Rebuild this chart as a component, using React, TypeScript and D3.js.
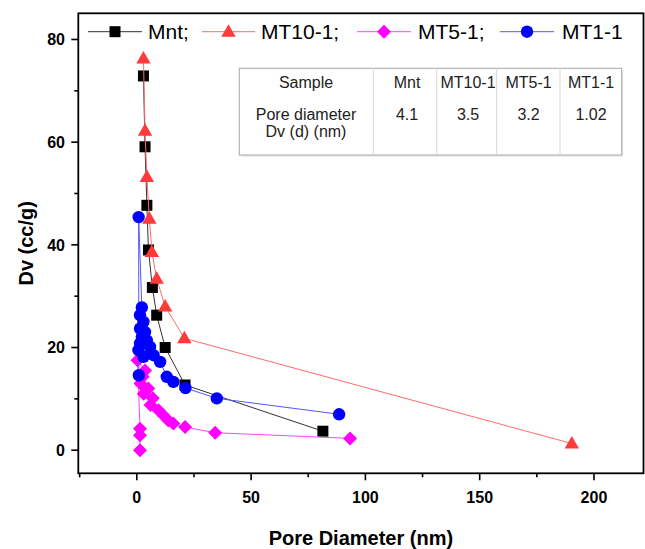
import React from "react";
import * as d3 from "d3";

const mntX = [2.9, 3.6, 4.4, 5.1, 6.8, 8.7, 12.4, 21.1, 81.4];
const mntY = [72.9, 59.1, 47.7, 39.0, 31.7, 26.3, 20.0, 12.7, 3.7];

const mt10X = [2.9, 3.6, 4.4, 5.5, 6.6, 8.7, 12.4, 20.8, 190.3];
const mt10Y = [76.3, 62.2, 53.2, 45.1, 38.6, 33.4, 28.0, 21.8, 1.3];

const mt5X = [1.4, 1.4, 1.4, 0.3, 3.6, 2.6, 1.6, 5.0, 3.0, 7.0, 6.0, 9.5, 11.6, 13.8, 16.0, 21.1, 34.3, 93.3];
const mt5Y = [0.0, 2.9, 4.2, 17.5, 15.5, 14.3, 13.0, 12.0, 11.0, 10.1, 8.8, 7.8, 6.8, 5.8, 5.2, 4.5, 3.4, 2.3];

const mt1X = [0.9, 0.8, 2.2, 1.4, 2.9, 1.4, 3.6, 2.2, 4.4, 1.4, 5.8, 0.7, 7.3, 2.9, 10.2, 13.1, 16.0, 21.3, 35.0, 88.5];
const mt1Y = [14.6, 45.4, 27.8, 26.3, 25.0, 23.7, 23.0, 22.1, 21.4, 20.8, 20.1, 19.5, 18.5, 18.2, 17.2, 14.3, 13.3, 12.1, 10.1, 7.0];

const xTicks = [0, 50, 100, 150, 200];
const xMinor = [-25, 25, 75, 125, 175];
const yTicks = [0, 20, 40, 60, 80];
const yMinor = [10, 30, 50, 70];

const tableHeader = ["Sample", "Mnt", "MT10-1", "MT5-1", "MT1-1"];
const tableValues = ["4.1", "3.5", "3.2", "1.02"];

type Series = { name: string; xs: number[]; ys: number[]; color: string; line: string; marker: string };

const seriesList: Series[] = [
  { name: "Mnt;", xs: mntX, ys: mntY, color: "#000000", line: "#333333", marker: "square" },
  { name: "MT10-1;", xs: mt10X, ys: mt10Y, color: "#FF3A3A", line: "#FF6A6A", marker: "triangle" },
  { name: "MT5-1;", xs: mt5X, ys: mt5Y, color: "#FF00FF", line: "#FF44FF", marker: "diamond" },
  { name: "MT1-1", xs: mt1X, ys: mt1Y, color: "#0000FF", line: "#5555FF", marker: "circle" },
];

const FONT = "'Liberation Sans', Arial, Helvetica, sans-serif";

function Marker({ kind, cx, cy, color }: { kind: string; cx: number; cy: number; color: string }) {
  if (kind === "square") return <rect x={cx - 5.5} y={cy - 5.5} width={11} height={11} fill={color} />;
  if (kind === "triangle")
    return <path d={`M${cx},${cy - 7.5} L${cx + 7.2},${cy + 5} L${cx - 7.2},${cy + 5} Z`} fill={color} />;
  if (kind === "diamond")
    return <path d={`M${cx},${cy - 7} L${cx + 7},${cy} L${cx},${cy + 7} L${cx - 7},${cy} Z`} fill={color} />;
  return <circle cx={cx} cy={cy} r={6.2} fill={color} />;
}

export default function App() {
  const W = 645, H = 549;
  const left = 78.3, right = 643.5, top = 13.3, bottom = 473.3;
  const x = d3.scaleLinear().domain([-25.6, 222.5]).range([left, 645.4]);
  const y = d3.scaleLinear().domain([-4.5, 85.1]).range([bottom, top]);

  const legendItems = [
    { x1: 88, x2: 142, tx: 148 },
    { x1: 202, x2: 255, tx: 261 },
    { x1: 357, x2: 411, tx: 418 },
    { x1: 500, x2: 554, tx: 562 },
  ];
  const legendY = 31.7;

  const tLeft = 239.3, tRight = 621.7, tTop = 68.3, tBottom = 155;
  const colEdges = [tLeft, 373.3, 436.7, 496.7, 560, tRight];
  const colCenters = [306, 407, 468, 528.5, 591];

  return (
    <svg width={W} height={H} style={{ position: "absolute", left: 0, top: 0, background: "#fff" }} fontFamily={FONT}>
      <rect x={0} y={0} width={W} height={H} fill="#fff" />
      <defs>
        <clipPath id="plotclip">
          <rect x={left} y={top} width={right - left} height={bottom - top} />
        </clipPath>
      </defs>

      {/* table */}
      <g>
        <rect x={tLeft + 1.5} y={tTop + 1.5} width={tRight - tLeft} height={tBottom - tTop} fill="#e4e4e4" />
        <rect x={tLeft} y={tTop} width={tRight - tLeft} height={tBottom - tTop} fill="#fff" stroke="#a8a8a8" strokeWidth={1} />
        {colEdges.slice(1, -1).map((cx, i) => (
          <line key={i} x1={cx} x2={cx} y1={tTop} y2={tBottom} stroke="#d8d8d8" strokeWidth={1} />
        ))}
        {tableHeader.map((t, i) => (
          <text key={i} x={colCenters[i]} y={88} textAnchor="middle" fontSize={16} fill="#222">{t}</text>
        ))}
        <text x={colCenters[0]} y={119.5} textAnchor="middle" fontSize={16} fill="#222">Pore diameter</text>
        <text x={colCenters[0]} y={136.5} textAnchor="middle" fontSize={16} fill="#222">Dv (d) (nm)</text>
        {tableValues.map((t, i) => (
          <text key={i} x={colCenters[i + 1]} y={119.5} textAnchor="middle" fontSize={16} fill="#222">{t}</text>
        ))}
      </g>

      {/* series */}
      <g clipPath="url(#plotclip)">
        {seriesList.map((s, si) => {
          const pts = s.xs.map((v, i) => [v, s.ys[i]] as [number, number]);
          const gen = d3.line<[number, number]>().x(d => x(d[0])).y(d => y(d[1]));
          return (
            <g key={si}>
              <path d={gen(pts) || ""} fill="none" stroke={s.line} strokeWidth={1} />
              {pts.map((p, i) => (
                <Marker key={i} kind={s.marker} cx={x(p[0])} cy={y(p[1])} color={s.color} />
              ))}
            </g>
          );
        })}
      </g>

      {/* legend */}
      {seriesList.map((s, i) => {
        const it = legendItems[i];
        return (
          <g key={i}>
            <line x1={it.x1} x2={it.x2} y1={legendY} y2={legendY} stroke={s.line} strokeWidth={1} />
            <Marker kind={s.marker} cx={(it.x1 + it.x2) / 2} cy={legendY} color={s.color} />
            <text x={it.tx} y={legendY + 7.6} fontSize={21} fill="#000">{s.name}</text>
          </g>
        );
      })}

      {/* frame */}
      <rect x={left} y={top} width={right - left} height={bottom - top} fill="none" stroke="#000" strokeWidth={1.8} />

      {/* x axis ticks */}
      {xTicks.map((t, i) => (
        <g key={i}>
          <line x1={x(t)} x2={x(t)} y1={bottom} y2={bottom + 7} stroke="#000" strokeWidth={1.6} />
          <text x={x(t)} y={503} textAnchor="middle" fontSize={16} fontWeight="bold" fill="#000">{t}</text>
        </g>
      ))}
      {xMinor.map((t, i) => (
        <line key={i} x1={x(t)} x2={x(t)} y1={bottom} y2={bottom + 4} stroke="#000" strokeWidth={1.6} />
      ))}
      {yTicks.map((t, i) => (
        <g key={i}>
          <line x1={left - 7} x2={left} y1={y(t)} y2={y(t)} stroke="#000" strokeWidth={1.6} />
          <text x={65} y={y(t) + 5.7} textAnchor="end" fontSize={16} fontWeight="bold" fill="#000">{t}</text>
        </g>
      ))}
      {yMinor.map((t, i) => (
        <line key={i} x1={left - 4} x2={left} y1={y(t)} y2={y(t)} stroke="#000" strokeWidth={1.6} />
      ))}

      {/* axis titles */}
      <text x={(left + right) / 2} y={545} textAnchor="middle" fontSize={20} fontWeight="bold" fill="#000">Pore Diameter (nm)</text>
      <text transform={`translate(33,${(top + bottom) / 2}) rotate(-90)`} textAnchor="middle" fontSize={20} fontWeight="bold" fill="#000">Dv (cc/g)</text>
    </svg>
  );
}
